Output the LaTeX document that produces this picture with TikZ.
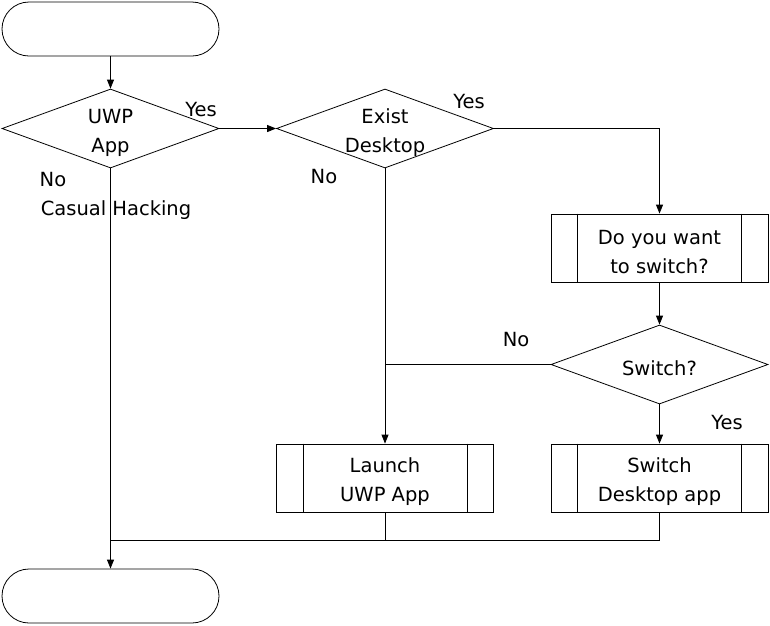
\documentclass[tikz,border=0pt]{standalone}
\usepackage{fontspec}
\setmainfont{DejaVu Sans}
\usetikzlibrary{shapes.geometric,arrows.meta}
\tikzset{
  every node/.style={font=\fontsize{19.5}{29}\selectfont},
  term/.style={draw,rectangle,rounded corners=27pt,minimum width=217pt,minimum height=54pt,inner sep=0pt,line width=0.8pt},
  dec/.style={draw,diamond,minimum width=217pt,minimum height=79pt,inner sep=0pt,line width=0.8pt},
  dtext/.style={align=center,inner sep=0pt},
  proc/.style={draw,rectangle,minimum width=217pt,minimum height=68pt,inner sep=0pt,line width=0.8pt},
  lbl/.style={inner sep=0pt},
  conn/.style={line width=0.8pt},
  arr/.style={conn,-{Triangle[length=9pt,width=7pt]}}
}
\begin{document}
\begin{tikzpicture}[x=1pt,y=-1pt]
\useasboundingbox (0,0) rectangle (770,625);
\node[term] (t1) at (110.5,29) {};
\node[dec] (d1) at (110.5,128.5) {};
\node[dtext] (d1t) at (110.5,133) {UWP\\App};
\node[dec] (d2) at (385,128.5) {};
\node[dtext] (d2t) at (385,133) {Exist\\Desktop};
\node[proc] (b1) at (659.5,248) {};
\node[dtext] (b1t) at (659.5,252) {Do you want\\to switch?};
\node[dec] (d3) at (659.5,364.5) {};
\node[dtext] (d3t) at (659.5,368) {Switch?};
\node[proc] (b2) at (385,478) {};
\node[dtext] (b2t) at (385,482) {Launch\\UWP App};
\node[proc] (b3) at (659.5,478) {};
\node[dtext] (b3t) at (659.5,482) {Switch\\Desktop app};
\node[term] (t2) at (110.5,596) {};
\foreach \b in {b1,b2,b3}{
  \draw[conn] ([xshift=27pt]\b.north west) -- ([xshift=27pt]\b.south west);
  \draw[conn] ([xshift=-27pt]\b.north east) -- ([xshift=-27pt]\b.south east);
}
\coordinate (j) at (110.5,540);
\draw[arr] (t1) -- (d1);
\draw[arr] (d1.east) -- (d2.west);
\draw[arr] (d2.east) -| (b1.north);
\draw[arr] (b1) -- (d3);
\draw[conn] (d3.west) -- (d2.south |- d3.west);
\draw[arr] (d2.south) -- (b2.north);
\draw[arr] (d3.south) -- (b3.north);
\draw[conn] (b3.south) |- (j);
\draw[conn] (b2.south) -- (b2.south |- j);
\draw[arr] (d1.south) -- (t2.north);
\node[lbl] (y1) at (201,110) {Yes};
\node[lbl] (y2) at (469,102) {Yes};
\node[lbl] (n2) at (324,177) {No};
\node[lbl] (n1) at (53,180) {No};
\node[lbl] (ch) at (116,210) {Casual Hacking};
\node[lbl] (n3) at (516,340) {No};
\node[lbl] (y3) at (727,423) {Yes};
\end{tikzpicture}
\end{document}
